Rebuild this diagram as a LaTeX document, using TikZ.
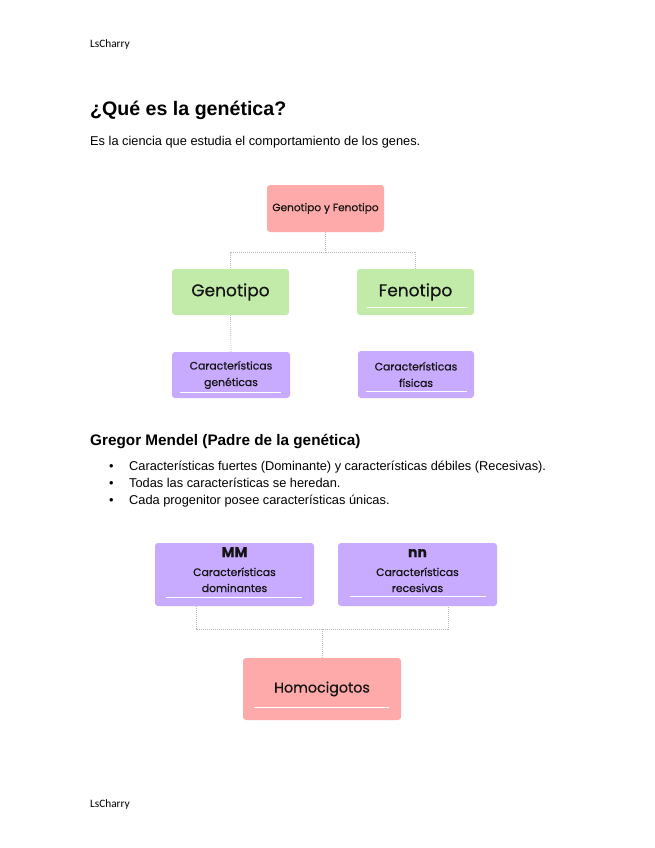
\documentclass[tikz,border=0pt]{standalone}
\usepackage{fontspec}
\setmainfont{Liberation Sans}
\setsansfont{Poppins}[FakeBold=0.5]
\newfontfamily\hdrfont{Carlito}
\definecolor{pinkbox}{RGB}{255,170,170}
\definecolor{greenbox}{RGB}{194,235,170}
\definecolor{purplebox}{RGB}{200,170,255}
\definecolor{connc}{RGB}{185,185,185}
\definecolor{boxtext}{RGB}{20,20,20}
\tikzset{
  box/.style={rounded corners=3pt, draw=none, inner sep=0pt, align=center, font=\sffamily, text=boxtext},
  pinkb/.style={box, fill=pinkbox},
  greenb/.style={box, fill=greenbox},
  purpleb/.style={box, fill=purplebox},
  conn/.style={draw=connc, line width=0.7pt, dash pattern=on 1pt off 1pt},
  uline/.style={draw=white, line width=0.8pt},
  txt/.style={anchor=base west, inner sep=0pt},
  bodyf/.style={font=\fontsize{12.8}{15}\selectfont},
}
\begin{document}
\begin{tikzpicture}[x=1pt,y=-1pt]
\useasboundingbox[fill=white] (0,0) rectangle (655,848);
% header / footer
\node[txt, font=\hdrfont\fontsize{11.3}{13}\selectfont] (hdr) at (90,48) {LsCharry};
\node[txt, font=\hdrfont\fontsize{11.3}{13}\selectfont] (ftr) at (90,807) {LsCharry};
% title and intro
\node[txt, font=\bfseries\fontsize{19.6}{24}\selectfont] (title) at (90,116) {¿Qué es la genética?};
\node[txt, bodyf] (intro) at (90,145) {Es la ciencia que estudia el comportamiento de los genes.};
% first diagram
\node[pinkb, minimum width=117pt, minimum height=47pt, font=\sffamily\fontsize{10.6}{12}\selectfont] (top) at (325.5,208.5) {Genotipo y Fenotipo};
\node[greenb, minimum width=117pt, minimum height=46pt, font=\sffamily\fontsize{17}{20}\selectfont] (geno) at (230.5,292) {Genotipo};
\node[greenb, minimum width=117pt, minimum height=46pt, font=\sffamily\fontsize{17}{20}\selectfont] (feno) at (415.5,292) {Fenotipo};
\node[purpleb, minimum width=118pt, minimum height=46pt, font=\sffamily\fontsize{10.8}{16.5}\selectfont] (cgen) at (231,375) {Características\\genéticas};
\node[purpleb, minimum width=116pt, minimum height=47pt, font=\sffamily\fontsize{10.8}{16.5}\selectfont] (cfis) at (416,374.5) {Características\\físicas};
\coordinate (jt) at (325.5,252);
\draw[conn] (top.south) -- (jt);
\draw[conn] (jt) -| (geno.north);
\draw[conn] (jt) -| (feno.north);
\draw[conn] (geno.south) -- (cgen.north);
\draw[uline] ([xshift=10pt,yshift=8pt]feno.south west) -- ([xshift=-7pt,yshift=8pt]feno.south east);
\draw[uline] ([xshift=8pt,yshift=6pt]cgen.south west) -- ([xshift=-9pt,yshift=6pt]cgen.south east);
\draw[uline] ([xshift=8pt,yshift=7pt]cfis.south west) -- ([xshift=-7pt,yshift=7pt]cfis.south east);
% Mendel
\node[txt, font=\bfseries\fontsize{15.3}{18}\selectfont] (mendel) at (90,445) {Gregor Mendel (Padre de la genética)};
\node[txt, bodyf] (b1) at (109,470) {•};
\node[txt, bodyf] (t1) at (129,470) {Características fuertes (Dominante) y características débiles (Recesivas).};
\node[txt, bodyf] (b2) at (109,487) {•};
\node[txt, bodyf] (t2) at (129,487) {Todas las características se heredan.};
\node[txt, bodyf] (b3) at (109,504) {•};
\node[txt, bodyf] (t3) at (129,504) {Cada progenitor posee características únicas.};
% second diagram
\node[purpleb, minimum width=159pt, minimum height=63pt] (mm) at (234.5,574.5) {};
\node[purpleb, minimum width=159pt, minimum height=63pt] (nn) at (417.5,574.5) {};
\node[box, font=\sffamily\bfseries\fontsize{14}{16}\selectfont, anchor=base] (mmt) at (234.5,557) {MM};
\node[box, font=\sffamily\fontsize{10.8}{16.5}\selectfont, anchor=base] (mmc) at (234.5,576) {Características};
\node[box, font=\sffamily\fontsize{10.8}{16.5}\selectfont, anchor=base] (mmd) at (234.5,592) {dominantes};
\node[box, font=\sffamily\bfseries\fontsize{14}{16}\selectfont, anchor=base] (nnt) at (417.5,557) {nn};
\node[box, font=\sffamily\fontsize{10.8}{16.5}\selectfont, anchor=base] (nnc) at (417.5,576) {Características};
\node[box, font=\sffamily\fontsize{10.8}{16.5}\selectfont, anchor=base] (nnd) at (417.5,592) {recesivas};
\node[pinkb, minimum width=158pt, minimum height=62pt, font=\sffamily\fontsize{14.3}{17}\selectfont] (homo) at (322,689) {Homocigotos};
\coordinate (j1) at (196,629);
\coordinate (j2) at (448,629);
\draw[conn] (mm.south -| j1) -- (j1) -- (j2) -- (nn.south -| j2);
\draw[conn] (homo.north) -- (homo.north |- j1);
\draw[uline] ([xshift=11pt,yshift=9pt]mm.south west) -- ([xshift=-12pt,yshift=9pt]mm.south east);
\draw[uline] ([xshift=12pt,yshift=10pt]nn.south west) -- ([xshift=-11pt,yshift=10pt]nn.south east);
\draw[uline] ([xshift=11pt,yshift=13pt]homo.south west) -- ([xshift=-12pt,yshift=13pt]homo.south east);
\end{tikzpicture}
\end{document}
